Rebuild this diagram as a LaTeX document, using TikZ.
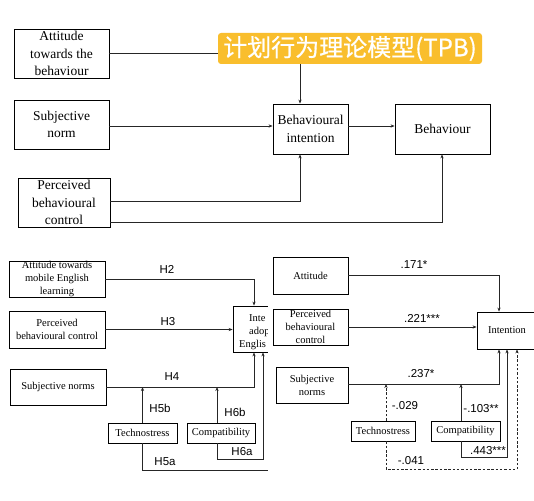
\documentclass[tikz,border=0pt]{standalone}
\usepackage{fontspec}
\setmainfont{Liberation Serif}
\setsansfont{Liberation Sans}
\newfontfamily\cjkfont[FakeBold=0.6]{Noto Sans CJK SC}
\usetikzlibrary{arrows.meta,calc}
\definecolor{tpborange}{RGB}{249,190,45}
\tikzset{
  box/.style={draw=black,line width=0.8pt,inner sep=0pt,align=center},
  bigbox/.style={box,font=\rmfamily\fontsize{13.5}{17.5}\selectfont},
  smallbox/.style={box,font=\rmfamily\fontsize{10.5}{13}\selectfont},
  cuttext/.style={font=\rmfamily\fontsize{10.5}{13}\selectfont,inner sep=0pt,anchor=base west},
  arr/.style={draw=black!85,line width=0.7pt,-{Stealth[length=4pt,width=3.2pt]}},
  lab/.style={font=\sffamily\fontsize{11.5}{13}\selectfont,inner sep=0pt}
}
\begin{document}
\begin{tikzpicture}[x=1pt,y=-1pt]
\clip (0,0) rectangle (534,500);
\fill[white] (0,0) rectangle (534,500);

% ---------- top panel ----------
\node[bigbox,minimum width=95pt,minimum height=49pt] (a1) at (61.5,53.5) {Attitude\\towards the\\behaviour};
\node[bigbox,minimum width=95pt,minimum height=49pt] (sn) at (61.5,124.5) {Subjective\\norm};
\node[bigbox,minimum width=92pt,minimum height=49pt] (pbc) at (64,202.5) {Perceived\\behavioural\\control};
\node[bigbox,minimum width=75pt,minimum height=50pt] (bi) at (310.5,129) {Behavioural\\intention};
\node[bigbox,minimum width=95pt,minimum height=50pt] (beh) at (442.5,129) {Behaviour};

\draw[arr] (a1.east) -| ($(bi.north)+(-10.5,0)$);
\draw[arr] ($(sn.east)+(0,1.5)$) -- ($(bi.west)+(0,-3)$);
\draw[arr] ($(bi.east)+(0,-3)$) -- ($(beh.west)+(0,-3)$);
\draw[arr] ($(pbc.east)+(0,-1.5)$) -| ($(bi.south)+(-10.5,0)$);
\draw[arr] ($(pbc.east)+(0,19.5)$) -| ($(beh.south)+(-0.5,0)$);

\node[fill=tpborange,rounded corners=3pt,minimum width=264pt,minimum height=31pt,inner sep=0pt,
      text=white,font=\cjkfont\fontsize{24}{26}\selectfont] (tpb) at (350,48.5) {计划行为理论模型(TPB)};

% ---------- bottom left panel ----------
\node[smallbox,minimum width=96pt,minimum height=36pt] (la) at (57,279) {Attitude towards\\mobile English\\learning};
\node[smallbox,minimum width=96pt,minimum height=37pt] (lp) at (57,329.5) {Perceived\\behavioural control};
\node[smallbox,minimum width=96pt,minimum height=36pt] (ls) at (58,387) {Subjective norms};
\node[box,minimum width=86pt,minimum height=46pt] (li) at (276,329) {};
\node[cuttext] (li1) at (249,321) {Inte};
\node[cuttext] (li2) at (249,334) {adop};
\node[cuttext] (li3) at (239,347) {Englis};
\node[smallbox,minimum width=69pt,minimum height=20pt] (lt) at (142.5,433) {Technostress};
\node[smallbox,minimum width=68pt,minimum height=20pt] (lc) at (221,433) {Compatibility};

\coordinate (lsl) at (ls.east);
\coordinate (lcn) at ($(lc.north)+(-4,0)$);
\draw[arr] (la.east) -| ($(li.north)+(-22,0)$);
\draw[arr] (lp.east) -- (lp.east -| li.west);
\draw[arr] (ls.east) -| ($(li.south)+(-22,0)$);
\draw[arr] (lt.north) -- (lt.north |- lsl);
\draw[arr] (lcn) -- (lcn |- lsl);
\draw[arr] ($(lc.south)+(-4,0)$) -- ++(0,16) -| ($(li.south)+(-13,0)$);
\draw[arr] (lt.south) -- ++(0,27) -| ($(li.south)+(9,0)$);

\node[lab] (h2) at (167,269) {H2};
\node[lab] (h3) at (168,322) {H3};
\node[lab] (h4) at (172,377) {H4};
\node[lab] (h5b) at (160,408) {H5b};
\node[lab] (h6b) at (235,412) {H6b};
\node[lab] (h6a) at (242,452) {H6a};
\node[lab] (h5a) at (165,462) {H5a};

% ---------- overlay of right panel ----------
\fill[white] (267.5,245) rectangle (534,500);

\node[smallbox,minimum width=75pt,minimum height=37pt] (ra) at (310.5,275.5) {Attitude};
\node[smallbox,minimum width=75pt,minimum height=36pt] (rp) at (310.5,327) {Perceived\\behavioural\\control};
\node[smallbox,minimum width=72pt,minimum height=36pt] (rs) at (312,385) {Subjective\\norms};
\node[smallbox,minimum width=60pt,minimum height=37pt] (ri) at (507,330.5) {Intention};
\node[smallbox,minimum width=64pt,minimum height=20pt] (rt) at (383,431) {Technostress};
\node[smallbox,minimum width=69pt,minimum height=20pt] (rc) at (465.5,431) {Compatibility};

\coordinate (rsl) at ($(rs.east)+(0,-1)$);
\coordinate (rtn) at ($(rt.north)+(3,0)$);
\coordinate (rcn) at ($(rc.north)+(-4.5,0)$);
\draw[arr] (ra.east) -| ($(ri.north)+(-8,0)$);
\draw[arr] (rp.east) -- (rp.east -| ri.west);
\draw[arr] (rsl) -| ($(ri.south)+(-8,0)$);
\draw[arr,dashed,dash pattern=on 2.5pt off 1.8pt] (rtn) -- (rtn |- rsl);
\draw[arr] (rcn) -- (rcn |- rsl);
\draw[arr] ($(rc.south)+(-4.5,0)$) -- ++(0,16) -| (ri.south);
\draw[arr,dashed,dash pattern=on 2.5pt off 1.8pt] ($(rt.south)+(3,0)$) -- ++(0,28) -| ($(ri.south)+(10,0)$);

\node[lab] (c1) at (414,265) {.171*};
\node[lab] (c2) at (422,318) {.221***};
\node[lab] (c3) at (421,374) {.237*};
\node[lab] (c4) at (405,406) {-.029};
\node[lab] (c5) at (481,409) {-.103**};
\node[lab] (c6) at (488,451) {.443***};
\node[lab] (c7) at (411,461) {-.041};
\end{tikzpicture}
\end{document}
